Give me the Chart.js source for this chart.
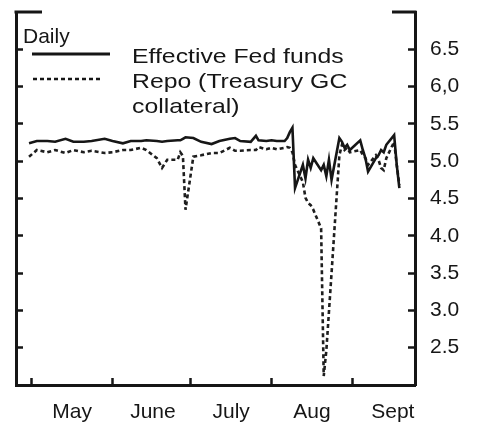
<!DOCTYPE html>
<html>
<head>
<meta charset="utf-8">
<script src="https://cdn.jsdelivr.net/npm/chart.js@4.4.1/dist/chart.umd.min.js"></script>
<style>
  html, body { margin: 0; padding: 0; background: #fff; }
  canvas { display: block; }
</style>
</head>
<body>
<canvas id="chart" width="479" height="425"></canvas>
<script>
// Data (2007, daily, percent)
const dates = [
  '2007-04-30', '2007-05-03', '2007-05-07', '2007-05-10', '2007-05-14', '2007-05-17',
  '2007-05-21', '2007-05-24', '2007-05-29', '2007-06-01', '2007-06-05', '2007-06-08',
  '2007-06-12', '2007-06-14', '2007-06-18', '2007-06-20', '2007-06-22', '2007-06-26',
  '2007-06-27', '2007-06-28', '2007-06-29', '2007-07-02', '2007-07-05', '2007-07-09',
  '2007-07-12', '2007-07-16', '2007-07-18', '2007-07-20', '2007-07-24', '2007-07-26',
  '2007-07-27', '2007-07-30', '2007-08-01', '2007-08-03', '2007-08-06', '2007-08-07',
  '2007-08-08', '2007-08-09', '2007-08-10', '2007-08-13', '2007-08-14', '2007-08-15',
  '2007-08-16', '2007-08-17', '2007-08-20', '2007-08-21', '2007-08-22', '2007-08-23',
  '2007-08-24', '2007-08-27', '2007-08-28', '2007-08-29', '2007-08-30', '2007-08-31',
  '2007-09-04', '2007-09-05', '2007-09-06', '2007-09-07', '2007-09-10', '2007-09-11',
  '2007-09-12', '2007-09-13', '2007-09-14', '2007-09-17', '2007-09-18', '2007-09-19'
];
const fedFunds = [
  5.24, 5.27, 5.27, 5.26, 5.30, 5.26,
  5.26, 5.27, 5.30, 5.27, 5.24, 5.27,
  5.27, 5.28, 5.27, 5.26, 5.27, 5.28,
  5.28, 5.30, 5.32, 5.31, 5.26, 5.23,
  5.27, 5.30, 5.31, 5.27, 5.26, 5.34,
  5.28, 5.27, 5.28, 5.27, 5.27, 5.31,
  5.39, 5.45, 4.64, 4.95, 4.77, 5.02,
  4.91, 5.04, 4.88, 4.95, 4.80, 5.02,
  4.75, 5.31, 5.26, 5.18, 5.22, 5.15,
  5.28, 5.15, 5.04, 4.86, 5.04, 5.08,
  5.15, 5.12, 5.22, 5.35, 4.95, 4.64
];
const repo = [
  5.06, 5.15, 5.12, 5.15, 5.11, 5.15,
  5.12, 5.14, 5.11, 5.12, 5.15, 5.15,
  5.18, 5.15, 5.04, 4.91, 5.02, 5.02,
  5.12, 5.07, 4.35, 5.06, 5.08, 5.11,
  5.11, 5.18, 5.14, 5.14, 5.15, 5.15,
  5.19, 5.16, 5.18, 5.16, 5.18, 5.19,
  5.18, 5.12, 4.95, 4.72, 4.51, 4.44,
  4.41, 4.35, 4.10, 2.12, 2.46, 2.98,
  3.50, 5.08, 5.22, 5.15, 5.18, 5.12,
  5.15, 5.08, 5.04, 4.95, 5.08, 5.02,
  4.91, 4.88, 5.04, 5.26, 4.95, 4.68
];

const months = ['May', 'June', 'July', 'Aug', 'Sept'];
const monthStarts = ['2007-05-01', '2007-06-01', '2007-07-01', '2007-08-01', '2007-09-01'];
const xRange = ['2007-04-25', '2007-09-25'];
const yTicks = [2.5, 3.0, 3.5, 4.0, 4.5, 5.0, 5.5, 6.0, 6.5];
const yTickLabels = ['2.5', '3.0', '3.5', '4.0', '4.5', '5.0', '5.5', '6,0', '6.5'];
const yRange = [2, 7];

const ink = '#161616';
const font = '"Liberation Sans", Arial, sans-serif';

const dayOf = s => (Date.parse(s) - Date.parse('2007-05-01')) / 864e5;
const startDays = monthStarts.map(dayOf);
const midDays = startDays.map(d => d + 15.5);

const points = vals => dates.map((d, i) => ({ x: dayOf(d), y: vals[i] }));

// inside tick marks only where a value is labelled
const yTickColor = c => (yTicks.includes(c.tick.value) ? ink : 'transparent');

// keep the plot box fixed: no extra room for half labels
const noPad = s => {
  s.paddingTop = 0; s.paddingBottom = 0;
  s.paddingLeft = 0; s.paddingRight = 0;
};

// top corner brackets
const frameTop = {
  id: 'frameTop',
  afterDraw(chart) {
    const { ctx, chartArea: a } = chart;
    const y = chart.scales.y.getPixelForValue(yRange[1]);
    ctx.save();
    ctx.strokeStyle = ink;
    ctx.lineWidth = 3;
    ctx.beginPath();
    ctx.moveTo(a.left - 1.5, y); ctx.lineTo(a.left + 26, y);
    ctx.moveTo(a.right - 23, y); ctx.lineTo(a.right + 1.5, y);
    ctx.stroke();
    ctx.restore();
  }
};

// legend: "Daily" + line samples with wide text
const legendBox = {
  id: 'legendBox',
  afterDraw(chart) {
    const ctx = chart.ctx;
    const sets = chart.data.datasets;
    const wide = (t, x, y) => {
      ctx.save();
      ctx.translate(x, y);
      ctx.scale(1.18, 1);
      ctx.fillText(t, 0, 0);
      ctx.restore();
    };
    ctx.save();
    ctx.fillStyle = ink;
    ctx.font = '21px ' + font;
    ctx.textBaseline = 'alphabetic';
    ctx.fillText('Daily', 23, 43);

    ctx.strokeStyle = ink;
    ctx.lineWidth = 3;
    ctx.beginPath(); ctx.moveTo(32, 54); ctx.lineTo(110, 54); ctx.stroke();
    ctx.lineWidth = sets[1].borderWidth;
    ctx.setLineDash(sets[1].borderDash);
    ctx.beginPath(); ctx.moveTo(33, 79); ctx.lineTo(101, 79); ctx.stroke();
    ctx.setLineDash([]);

    wide(sets[0].label, 132, 63);
    const parts = sets[1].label.split('\n');
    parts.forEach((p, i) => wide(p, 132, 88 + i * 25));
    ctx.restore();
  }
};

new Chart(document.getElementById('chart').getContext('2d'), {
  type: 'line',
  data: {
    datasets: [
      {
        label: 'Effective Fed funds',
        data: points(fedFunds),
        borderColor: ink,
        borderWidth: 2.6,
        pointRadius: 0,
        tension: 0
      },
      {
        label: 'Repo (Treasury GC\ncollateral)',
        data: points(repo),
        borderColor: '#1e1e1e',
        borderWidth: 2.6,
        borderDash: [4, 3],
        pointRadius: 0,
        tension: 0
      }
    ]
  },
  options: {
    responsive: false,
    animation: false,
    devicePixelRatio: 1,
    layout: { padding: { left: 16, top: 12, right: 0, bottom: 0 } },
    plugins: {
      legend: { display: false },
      tooltip: { enabled: false }
    },
    scales: {
      x: {
        type: 'linear',
        min: dayOf(xRange[0]),
        max: dayOf(xRange[1]),
        afterBuildTicks: s => {
          s.ticks = startDays.concat(midDays).map(v => ({ value: v }));
        },
        afterFit: s => { s.height = 40; noPad(s); },
        grid: {
          drawOnChartArea: false,
          tickLength: -7,
          tickWidth: 2.5,
          tickColor: c => (midDays.includes(c.tick.value) ? 'transparent' : ink)
        },
        border: { color: ink, width: 3 },
        ticks: {
          autoSkip: false,
          maxRotation: 0,
          padding: 22,
          color: ink,
          font: { family: font, size: 21 },
          callback: v => {
            const i = midDays.indexOf(v);
            return i < 0 ? '' : months[i];
          }
        }
      },
      y: {
        position: 'right',
        min: yRange[0],
        max: yRange[1],
        afterFit: s => { s.width = 64; noPad(s); },
        grid: {
          drawOnChartArea: false,
          tickLength: -7,
          tickWidth: 2.5,
          tickColor: yTickColor
        },
        border: { color: ink, width: 3 },
        ticks: {
          stepSize: 0.5,
          padding: 22,
          color: ink,
          font: { family: font, size: 21 },
          callback: v => {
            const i = yTicks.indexOf(v);
            return i < 0 ? '' : yTickLabels[i];
          }
        }
      },
      yl: {
        position: 'left',
        min: yRange[0],
        max: yRange[1],
        afterFit: s => { s.width = 0; noPad(s); },
        grid: {
          drawOnChartArea: false,
          tickLength: -7,
          tickWidth: 2.5,
          tickColor: yTickColor
        },
        border: { color: ink, width: 3 },
        ticks: { stepSize: 0.5, display: false }
      }
    }
  },
  plugins: [frameTop, legendBox]
});
</script>
</body>
</html>
